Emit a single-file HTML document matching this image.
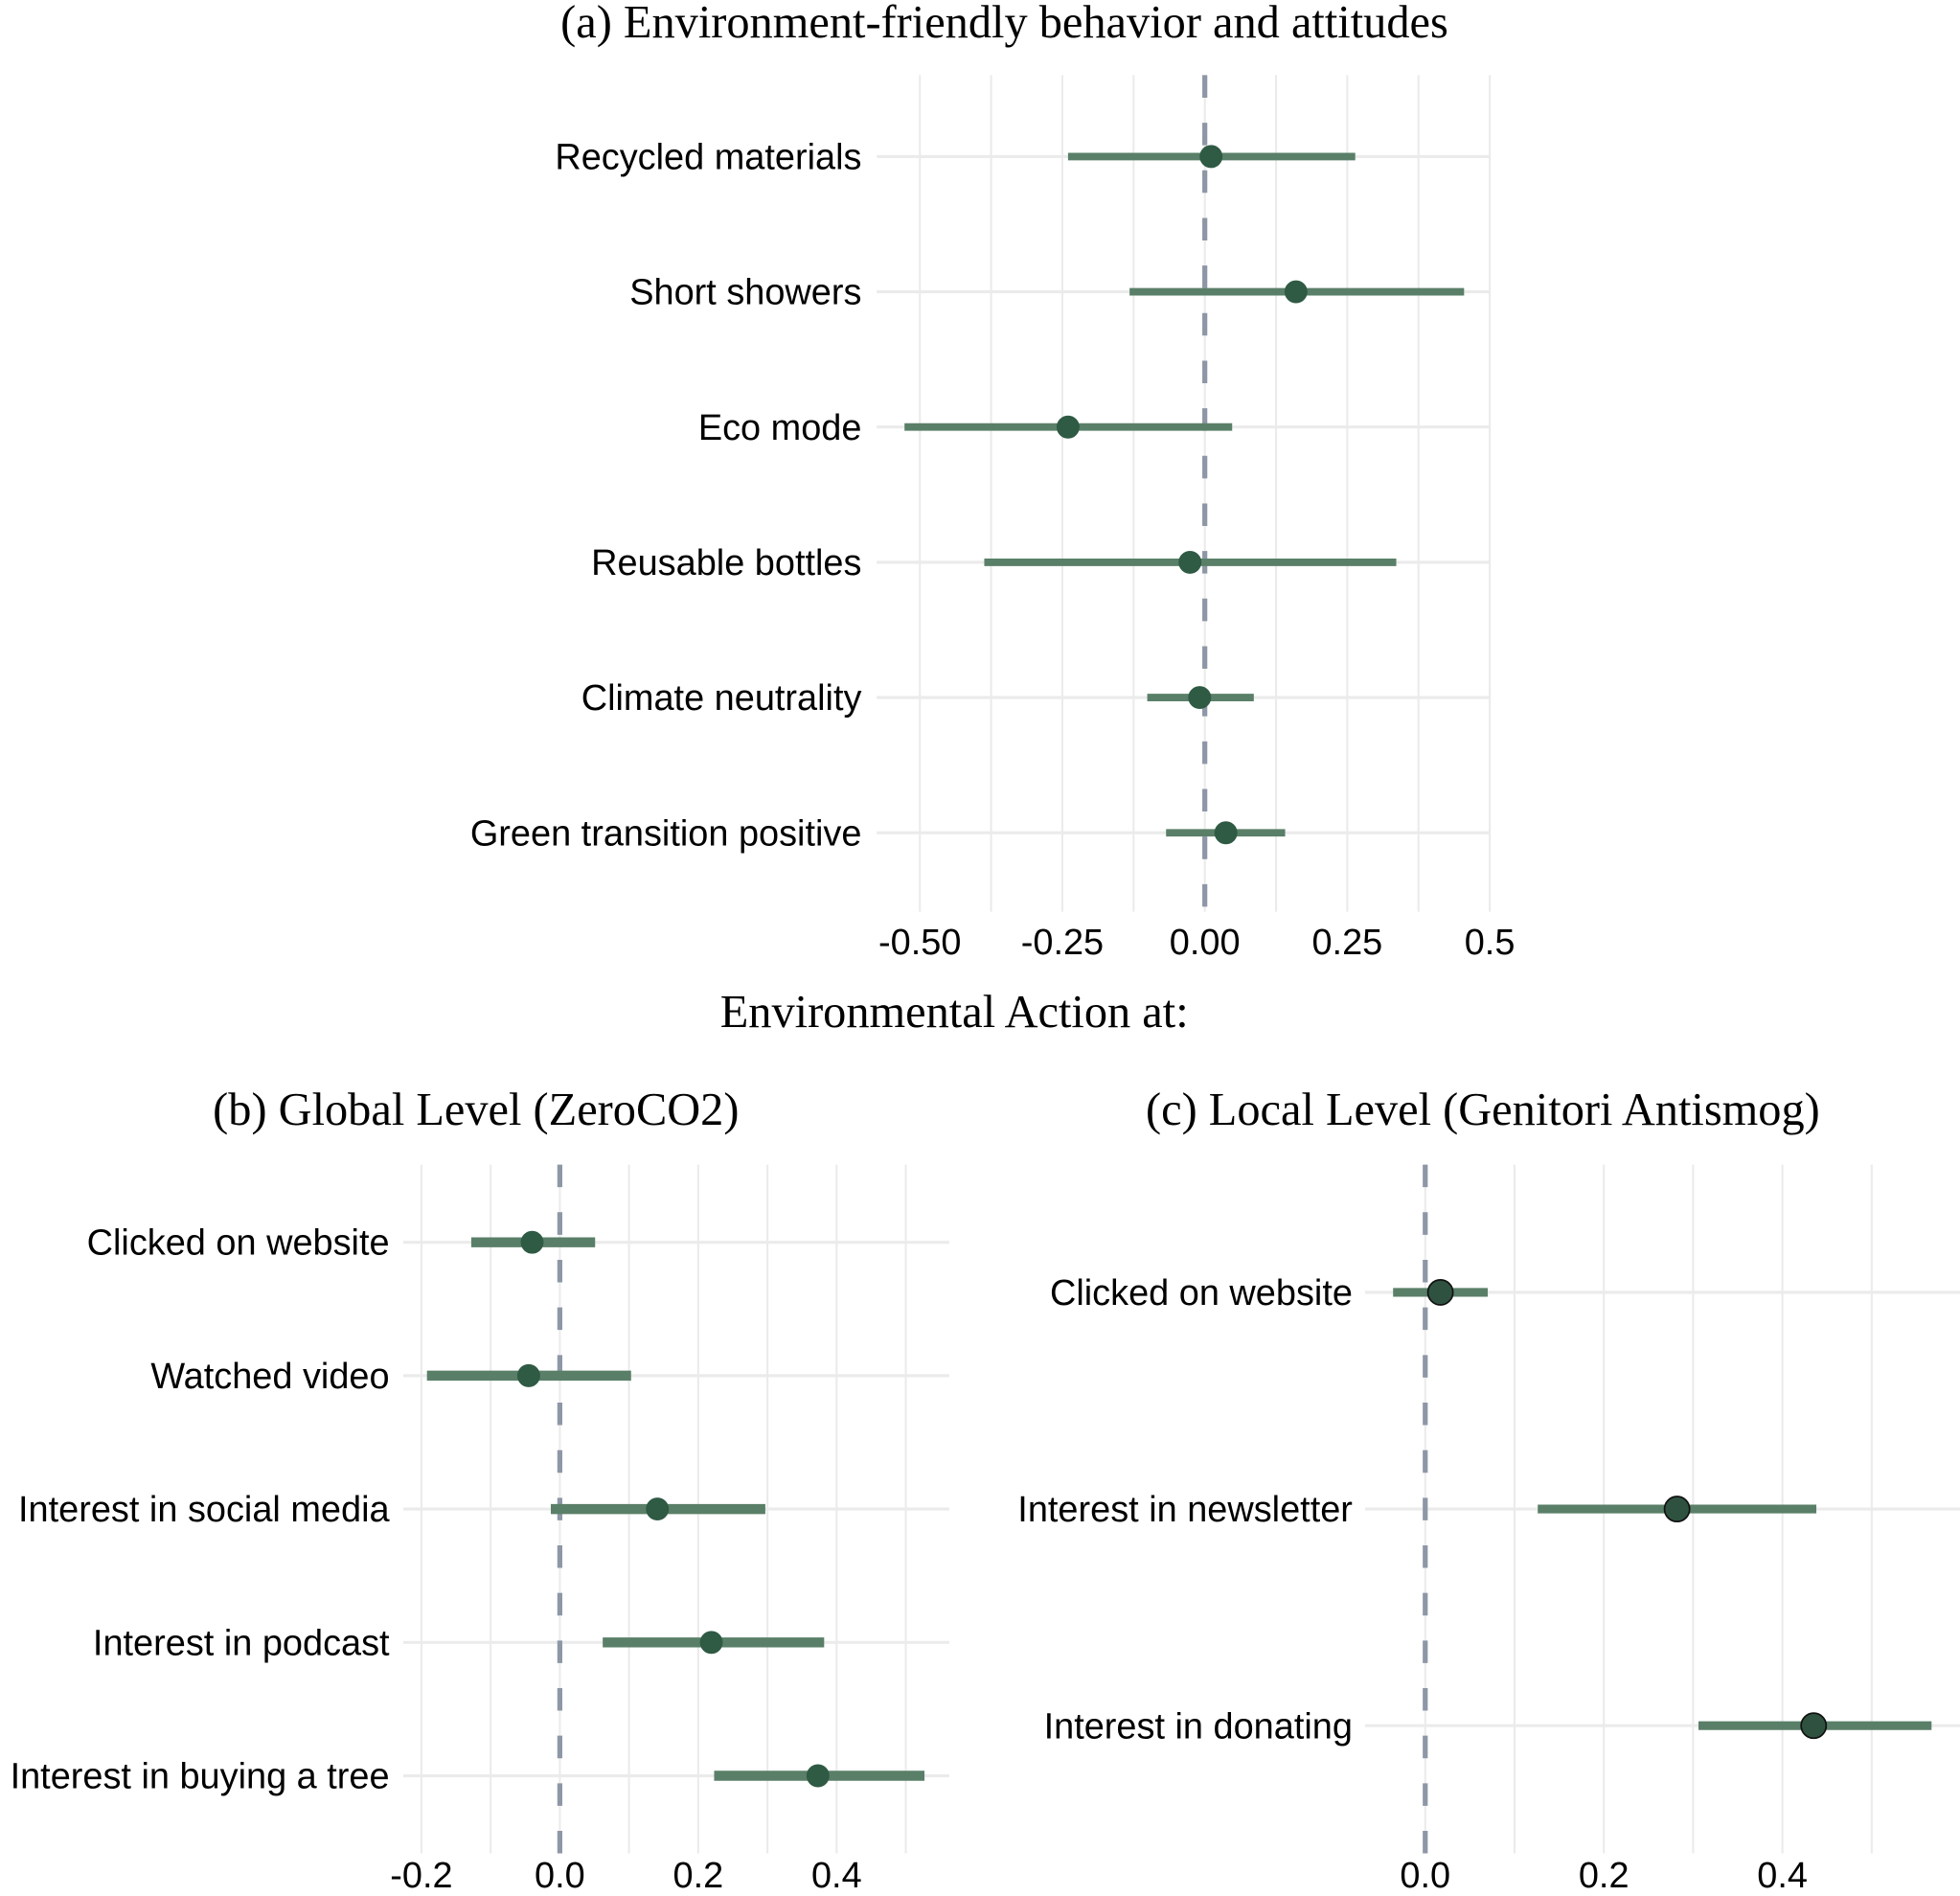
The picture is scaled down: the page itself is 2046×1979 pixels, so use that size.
<!DOCTYPE html>
<html><head><meta charset="utf-8">
<style>
html,body{margin:0;padding:0;background:#fff;}
svg{display:block;}
.lab{font-family:"Liberation Sans",Arial,sans-serif;font-size:29px;fill:#000;}
.ttl{font-family:"Liberation Serif","Times New Roman",serif;font-size:37px;fill:#000;}
</style></head>
<body>
<svg id="chart" width="2046" height="1979" viewBox="0 0 1565 1514" preserveAspectRatio="none" xmlns="http://www.w3.org/2000/svg">
<rect width="1565" height="1514" fill="#fff"/>
<text class="ttl" x="802" y="30" text-anchor="middle">(a) Environment-friendly behavior and attitudes</text>
<text class="ttl" x="762" y="820" text-anchor="middle">Environmental Action at:</text>
<text class="ttl" x="380" y="898" text-anchor="middle">(b) Global Level (ZeroCO2)</text>
<text class="ttl" x="1184" y="898" text-anchor="middle">(c) Local Level (Genitori Antismog)</text>
<g id="pa"></g>
<g id="pb"></g>
<g id="pc"></g>
</svg>
<script>
const aCats = ["Recycled materials","Short showers","Eco mode","Reusable bottles","Climate neutrality","Green transition positive"];
const aEst = [0.011,0.16,-0.24,-0.026,-0.009,0.037];
const aLo = [-0.24,-0.132,-0.527,-0.387,-0.101,-0.068];
const aHi = [0.264,0.455,0.048,0.336,0.086,0.141];
const aTicks = [-0.5,-0.25,0,0.25,0.5];
const aTickLabels = ["-0.50","-0.25","0.00","0.25","0.5"];

const bCats = ["Clicked on website","Watched video","Interest in social media","Interest in podcast","Interest in buying a tree"];
const bEst = [-0.04,-0.045,0.141,0.219,0.373];
const bLo = [-0.128,-0.192,-0.013,0.062,0.223];
const bHi = [0.051,0.103,0.297,0.382,0.527];
const bTicks = [-0.2,0,0.2,0.4];
const bTickLabels = ["-0.2","0.0","0.2","0.4"];

const cCats = ["Clicked on website","Interest in newsletter","Interest in donating"];
const cEst = [0.017,0.282,0.435];
const cLo = [-0.036,0.126,0.306];
const cHi = [0.07,0.438,0.567];
const cTicks = [0,0.2,0.4];
const cTickLabels = ["0.0","0.2","0.4"];

const NS="http://www.w3.org/2000/svg";
function mk(parent,tag,attrs){const e=document.createElementNS(NS,tag);for(const k in attrs)e.setAttribute(k,attrs[k]);parent.appendChild(e);return e;}

function panel(g,cfg){
  const sx=v=>cfg.x0+(v-cfg.v0)*cfg.ppu;
  const sy=i=>cfg.yFirst+i*cfg.yStep;
  for(let v=cfg.gMin; v<=cfg.gMax+1e-9; v+=cfg.gStep){
    const l=mk(g,'line',{x1:sx(v),x2:sx(v),y1:cfg.top,y2:cfg.bot,stroke:'#ebebeb','stroke-width':1.6});
    
    
  }
  cfg.cats.forEach((c,i)=>{
    const l=mk(g,'line',{x1:cfg.left,x2:cfg.right,y1:sy(i),y2:sy(i),stroke:'#ebebeb','stroke-width':2.4});
    
    
    const t=mk(g,'text',{x:cfg.labX,y:sy(i)+10,'text-anchor':'end',class:'lab'});
    t.textContent=c;
    
    
  });
  const z=mk(g,'line',{x1:sx(0),x2:sx(0),y1:cfg.top,y2:cfg.bot,stroke:'#8e97a6','stroke-width':4,'stroke-dasharray':'18 20'});
  
  
  cfg.cats.forEach((c,i)=>{
    const b=mk(g,'line',{x1:sx(cfg.lo[i]),x2:sx(cfg.hi[i]),y1:sy(i),y2:sy(i),stroke:'#5a7f68','stroke-width':cfg.bw});
    
    
    const p=mk(g,'circle',{cx:sx(cfg.est[i]),cy:sy(i),r:cfg.r,fill:cfg.pfill,stroke:cfg.pstroke,'stroke-width':1.3});
    
    
  });
  cfg.ticks.forEach((v,i)=>{
    const t=mk(g,'text',{x:sx(v),y:cfg.tickY,'text-anchor':'middle',class:'lab'});
    t.textContent=cfg.tickLabels[i];
    
    
  });
}
panel(document.getElementById('pa'),{x0:962,v0:0,ppu:455,gMin:-0.5,gMax:0.5,gStep:0.125,top:60,bot:728,left:700,right:1190,
  yFirst:125,yStep:108,cats:aCats,est:aEst,lo:aLo,hi:aHi,ticks:aTicks,tickLabels:aTickLabels,labX:688,tickY:762,bw:6,r:8.5,pfill:'#2f5a44',pstroke:'#2f5a44'});
panel(document.getElementById('pb'),{x0:447,v0:0,ppu:552.5,gMin:-0.2,gMax:0.5,gStep:0.1,top:930,bot:1480,left:322,right:758,
  yFirst:992,yStep:106.5,cats:bCats,est:bEst,lo:bLo,hi:bHi,ticks:bTicks,tickLabels:bTickLabels,labX:311,tickY:1507,bw:8,r:8.5,pfill:'#2f5a44',pstroke:'#2f5a44'});
panel(document.getElementById('pc'),{x0:1138,v0:0,ppu:713,gMin:0,gMax:0.5,gStep:0.1,top:930,bot:1480,left:1090,right:1565,
  yFirst:1032,yStep:173,cats:cCats,est:cEst,lo:cLo,hi:cHi,ticks:cTicks,tickLabels:cTickLabels,labX:1080,tickY:1507,bw:7,r:10,pfill:'#2f5240',pstroke:'#111'});
</script>
</body></html>
